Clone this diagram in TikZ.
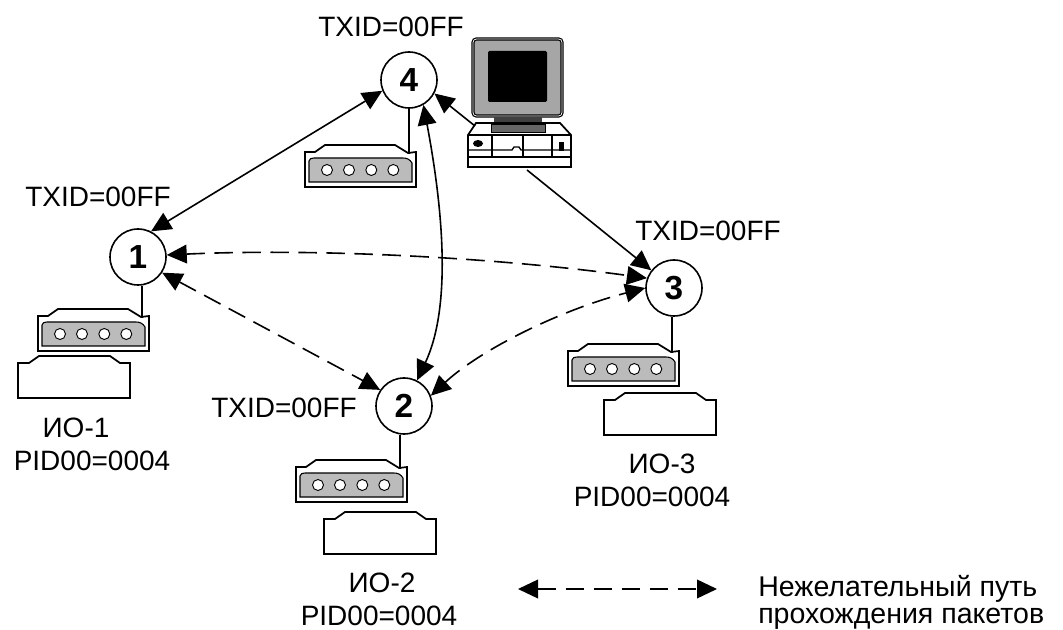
\documentclass[tikz,border=0pt]{standalone}
\usepackage{fontspec}
\setmainfont{Liberation Sans}
\usetikzlibrary{arrows.meta}
\definecolor{routergray}{HTML}{BBBBBB}
\definecolor{monitorgray}{HTML}{A6A6A6}
\definecolor{standgray}{HTML}{666666}
\tikzset{
  hub/.style={draw=black,fill=white,circle,line width=1.2pt,minimum size=42pt,inner sep=0pt,font=\fontsize{25}{25}\selectfont\bfseries},
  lbl/.style={anchor=base,inner sep=0pt,font=\fontsize{21}{21}\selectfont},
  lbll/.style={anchor=base west,inner sep=0pt,font=\fontsize{21.4}{21.4}\selectfont},
  link/.style={line width=1.2pt,{Triangle[length=15pt,width=14pt]}-{Triangle[length=15pt,width=14pt]}},
  onelink/.style={line width=1.2pt,-{Triangle[length=15pt,width=14pt]}},
  dashlink/.style={link,dash pattern=on 14pt off 7pt},
  stem/.style={line width=1.2pt},
  devline/.style={draw=black,line width=1.3pt,line join=miter},
}
\newcommand{\routerbox}[3]{%
  \begin{scope}[shift={(#1,#2)}]
    \draw[devline,fill=white] (0,0)--(10,0)--(20,-7)--(90,-7)--(103,1)--(111,0)--(111,35)--(0,35)--cycle;
    \draw[line width=0.8pt,fill=routergray] (4,30)--(4,9) to[out=90,in=180] (9,6)--(98,6) to[out=0,in=120] (107,11)--(107,30)--cycle;
    \foreach \cx in {22,44,66.3,88.3}{\draw[line width=0.7pt,fill=white] (\cx,18) circle[radius=5.5];}
    \coordinate (#3) at (104,2);
  \end{scope}}
\newcommand{\iobox}[2]{%
  \begin{scope}[shift={(#1,#2)}]
    \draw[devline,fill=white] (0,0)--(11,0)--(21,-7)--(92,-7)--(102,0)--(112,0)--(112,35)--(0,35)--cycle;
  \end{scope}}
\begin{document}
\begin{tikzpicture}[x=0.75pt,y=-0.75pt]
\useasboundingbox (0,0) rectangle (1063,630);
\fill[white] (0,0) rectangle (1063,630);

% computer
\draw[line width=0.8pt,fill=white,rounded corners=3] (472,38) rectangle (563,117);
\draw[line width=0.8pt,fill=monitorgray,rounded corners=2] (474,40) rectangle (561,115);
\fill[black,rounded corners=1] (488,51) rectangle (547,102);
\fill[black!75] (494,117) rectangle (542,124);
\draw[devline,fill=white] (476,123)--(560,123)--(571,135)--(571,167)--(468,167)--(468,135)--cycle;
\draw[line width=0.7pt,fill=standgray] (491,124) rectangle (545,132);
\draw[line width=1.6pt] (468,135)--(571,135);
\draw[line width=1pt] (468,150)--(512,150)--(514,147)--(519,147)--(521,150)--(571,150);
\draw[line width=1.2pt] (468,157)--(571,157);
\draw[line width=1.2pt] (492,135)--(492,157);
\draw[line width=0.8pt] (523,135)--(523,157);
\draw[line width=1.2pt] (552,135)--(552,157);
\fill[black] (478,143.5) ellipse[x radius=5,y radius=3.5];
\fill[black] (558.5,142) rectangle (563.5,151);
\coordinate (pcA) at (475,126);
\coordinate (pcB) at (527,170);

% devices
\routerbox{305}{152}{r4}
\routerbox{38}{316}{r1}
\routerbox{296}{467}{r2}
\routerbox{568}{351}{r3}
\iobox{18}{363}
\iobox{324}{519}
\iobox{604}{400}

% hubs
\node[hub] (n4) at (409,80) {4};
\node[hub] (n1) at (138,257) {1};
\node[hub] (n2) at (404,406) {2};
\node[hub] (n3) at (674,288) {3};

% stems
\draw[stem] (n4.south) -- (n4.south |- r4);
\draw[stem] (n1.south -| r1) -- (r1);
\draw[stem] (n2.south -| r2) -- (r2);
\draw[stem] (n3.south -| r3) -- (r3);

% connectors
\draw[link] (n1.63) -- (n4.202);
\draw[onelink] (pcA) -- (n4.-28);
\draw[onelink] (pcB) -- (n3.142);
\draw[link] (n4.-60) .. controls (445,220) and (450,310) .. (n2.63);
\draw[dashlink] (n1.4) .. controls (320,248) and (500,258) .. (n3.160);
\draw[dashlink] (n1.-33) -- (n2.146);
\draw[dashlink] (n2.21) .. controls (480,350) and (560,310) .. (n3.180);

% legend
\coordinate (legA) at (518,589);
\coordinate (legB) at (717,589);
\draw[dashlink] (legA) -- (legB);

% labels
\node[lbl] (t4) at (391,37) {TXID=00FF};
\node[lbl] (t1) at (98,207) {TXID=00FF};
\node[lbl] (t3) at (708,241) {TXID=00FF};
\node[lbl] (t2) at (284,417) {TXID=00FF};
\node[lbl] (io1) at (76,437) {ИО-1};
\node[lbl] (p1) at (92,470) {PID00=0004};
\node[lbl] (io2) at (382,592) {ИО-2};
\node[lbl] (p2) at (379,625) {PID00=0004};
\node[lbl] (io3) at (662,473) {ИО-3};
\node[lbl] (p3) at (652,506) {PID00=0004};
\node[lbll] (leg1) at (758,596) {Нежелательный путь};
\node[lbll] (leg2) at (758,623) {прохождения пакетов};
\end{tikzpicture}
\end{document}
